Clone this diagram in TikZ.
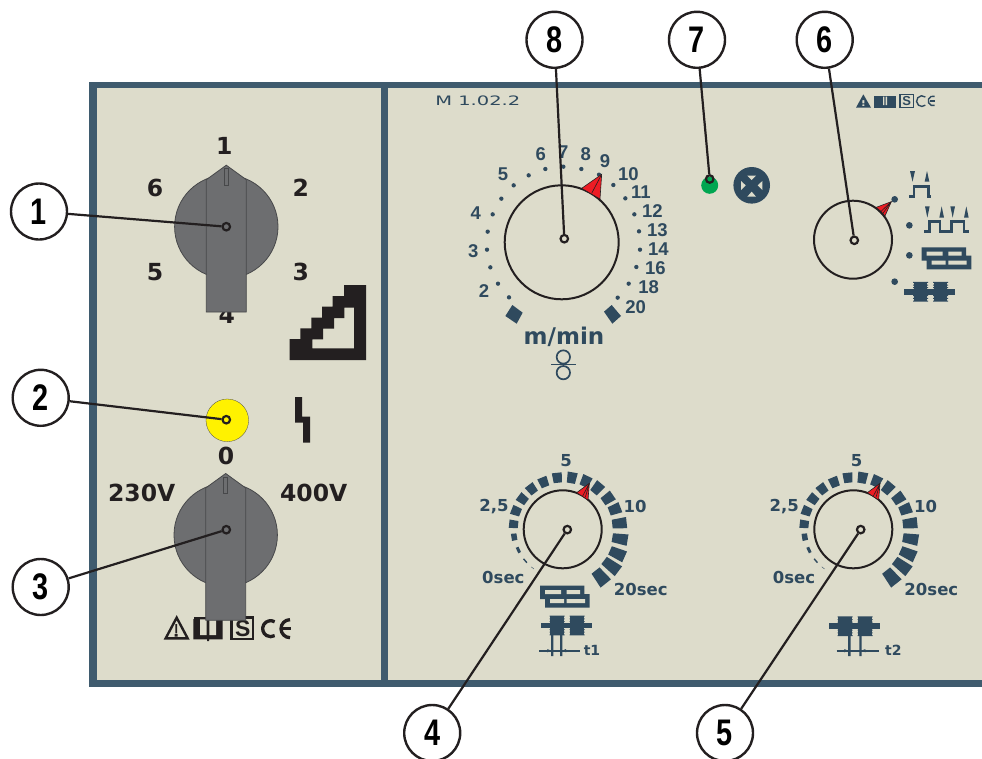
\documentclass[tikz,border=0pt]{standalone}
\usepackage{fontspec}
\setmainfont{Liberation Sans}
\newfontfamily\wide{DejaVu Sans}
\definecolor{frameblue}{HTML}{3F5B6E}
\definecolor{navy}{HTML}{2F4A5E}
\definecolor{panelbg}{HTML}{DDDCCB}
\definecolor{ink}{HTML}{231F20}
\definecolor{knobgray}{HTML}{6D6E70}
\definecolor{knobedge}{HTML}{47484A}
\definecolor{redptr}{HTML}{ED1C24}
\definecolor{greenled}{HTML}{00A651}
\definecolor{yellowled}{HTML}{FFF200}
\newcommand{\calldigit}[1]{\scalebox{.78}[1]{#1}}
\tikzset{x=1pt,y=-1pt,
 callout/.style={circle,draw=ink,line width=2.4pt,fill=white,minimum size=56pt,inner sep=0pt,font=\fontsize{37}{37}\selectfont\bfseries},
 pivot/.style={circle,draw=ink,line width=2.2pt,fill=none,minimum size=7.5pt,inner sep=0pt},
 leader/.style={ink,line width=2.2pt},
 lblk/.style={text=ink,font=\wide\bfseries\fontsize{23.5}{23.5}\selectfont,inner sep=0pt},
 ldial/.style={text=navy,font=\bfseries\fontsize{18.5}{18.5}\selectfont,inner sep=0pt},
 ltime/.style={text=navy,font=\wide\bfseries\fontsize{16.5}{16.5}\selectfont,inner sep=0pt},
 dialring/.style={draw=ink,line width=2pt,fill=none},
 knob/.style={fill=knobgray,draw=knobedge,line width=.8pt},
 zoomed/.style={scale=1/3}
}
\newcommand{\rotknob}[2]{%
 \begin{scope}[shift={(#1,#2)}]
 \draw[knob] (0,0) circle (51.7);
 \draw[knob] (-20,-47) -- (0,-61.5) -- (20,-47) -- (20,85.3) -- (-20,85.3) -- cycle;
 \draw[knobedge,line width=.7pt,fill=knobgray] (-2,-58) rectangle (2,-41.5);
 \end{scope}}
\newcommand{\timeptr}{%
 \fill[redptr,draw=ink,line width=.6pt] (358,130) -- (320,158) -- (354,180) -- cycle;
 \draw[ink,line width=.6pt] (358,130) -- (338,168) (358,130) -- (346,172);}
\newcommand{\timescale}[2]{%
 \begin{scope}[shift={(#1,#2)}]
 \foreach \a/\wa/\ri/\ro in {
  51.5/5.5/53/69.5, 37/5/52/70, 24/5/52/68, 9.5/5/50.5/66, -6/5/50/64.5,
  -21/5/50/62, -34.4/5/49/61, -50/5/48/60, -64.5/5/48/59, -80/5/47/58,
  -96/5/47/57, -112/5/46/56, -127.6/5/46/56, -143/5/45.5/55.5, -158.6/5/45.5/55,
  -174/4.5/45/54, 171/4/46.5/52, 155/3.5/47.5/50.5, 140/3/48.3/49.7, 128/2/48.8/49.2}{
   \fill[navy] ({\ri*cos(\a-\wa)},{\ri*sin(\a-\wa)}) -- ({\ro*cos(\a-\wa)},{\ro*sin(\a-\wa)})
     -- ({\ro*cos(\a+\wa)},{\ro*sin(\a+\wa)}) -- ({\ri*cos(\a+\wa)},{\ri*sin(\a+\wa)}) -- cycle;}
 \end{scope}}
\newcommand{\clutchsym}{%
 \fill[navy] (0,-8.5) rectangle (153,8.5);
 \fill[navy] (28,-28) rectangle (69,29);
 \fill[navy] (88,-28) rectangle (129,29);
 \foreach \yy in {-28,-20,-12,12,20,28}{\fill[navy] (26,\yy-1.5) rectangle (71,\yy+1.5) (86,\yy-1.5) rectangle (131,\yy+1.5);}}
\newcommand{\bricksym}{%
 \fill[navy] (0,0) rectangle (133,40) (15,25) rectangle (149,66);
 \fill[panelbg] (15,13) rectangle (63,25) (80,13) rectangle (120,25)
   (30,40) rectangle (72,52) (80,40) rectangle (135,52);}
\begin{document}
\begin{tikzpicture}
\useasboundingbox (0,0) rectangle (982,758);
\fill[white] (0,0) rectangle (982,758);
% panel
\fill[panelbg] (93,86) rectangle (982,683);
\fill[frameblue] (89,82) rectangle (982,88.3);
\fill[frameblue] (89,82) rectangle (97,686.8);
\fill[frameblue] (89,680) rectangle (982,686.8);
\fill[frameblue] (381,82) rectangle (387.5,686.8);
% left knob 1
\node[lblk] (l4) at (226.7,314.5) {4};
\rotknob{226.3}{226.7}
\node[lblk] (l1) at (224.3,146) {1};
\node[lblk] (l6) at (155,187.7) {6};
\node[lblk] (l2) at (300.7,187.7) {2};
\node[lblk] (l5) at (155,271.7) {5};
\node[lblk] (l3) at (300.7,271.7) {3};
% staircase
\begin{scope}[shift={(90,80)},zoomed]
\fill[ink,even odd rule] (762,615) -- (828,615) -- (828,840) -- (599,840) -- (599,777) -- (631,777) -- (631,745) -- (664,745) -- (664,713) -- (696,713) -- (696,680) -- (728,680) -- (728,648) -- (762,648) -- cycle
 (792,683) -- (792,805) -- (667,805) -- (667,778) -- (699,778) -- (699,746) -- (732,746) -- (732,714) -- (763,714) -- (763,683) -- cycle;
\end{scope}
% yellow lamp and lightning
\fill[yellowled,draw=knobedge,line width=.3pt] (227.3,420.3) circle (21.3);
\begin{scope}[shift={(90,380)},zoomed]
\fill[ink] (615,51) -- (636,51) -- (636,110) -- (660,110) -- (660,188) -- (639,188) -- (639,128) -- (615,128) -- cycle;
\end{scope}
\node[lblk] (l0) at (226,456) {0};
% approval marks left (under the knob handle)
\begin{scope}[shift={(150,600)},zoomed]
\draw[ink,line width=2.4pt,line join=miter] (80,53) -- (113,115) -- (47,115) -- cycle;
\fill[ink] (76,72) rectangle (81,100) (74,102) rectangle (83,110);
\fill[ink] (130,57) rectangle (218,118) (171,118) rectangle (177,123);
\fill[ink] (133,50) rectangle (172,58);
\fill[panelbg] (150,58) rectangle (170,105) (178,58) rectangle (198,105);
\draw[ink,line width=2.6pt] (244,52) rectangle (309.5,117);
\draw[ink,line width=3.3pt] (374,65.2) arc[start angle=-60,end angle=-300,radius=24];
\draw[ink,line width=3.3pt] (420,59) arc[start angle=-90,end angle=-270,radius=27];
\fill[ink] (395,82) rectangle (422,90);
\end{scope}
\node[ink,font=\bfseries\fontsize{23}{23}\selectfont,inner sep=0pt] (ms) at (242.7,628.3) {S};
% left knob 3
\rotknob{225.7}{535}
\node[lblk] (l230) at (141.7,492.7) {230V};
\node[lblk] (l400) at (313.7,492.7) {400V};
% model label
\node[text=navy,font=\wide\fontsize{13}{13}\selectfont,inner sep=0pt,anchor=west,xscale=1.5] (mlab) at (435,101) {M 1.02.2};
% marks right
\begin{scope}[shift={(690,85)},zoomed]
\fill[navy,even odd rule] (520,28) -- (543,68) -- (498,68) -- cycle (517,45) -- (523,45) -- (523,55) -- (517,55) -- cycle (517,58) -- (523,58) -- (523,63) -- (517,63) -- cycle;
\fill[navy] (553,32) rectangle (617,70);
\fill[panelbg] (579,35) rectangle (583,60) (587,35) rectangle (591,60);
\draw[navy,line width=1.6pt] (630,29) rectangle (670,68);
\draw[navy,line width=1.4pt] (706,36) arc[start angle=-50,end angle=-310,radius=16];
\draw[navy,line width=1.4pt] (734,34) arc[start angle=-70,end angle=-290,radius=14.5];
\fill[navy] (719,46) rectangle (734,50);
\end{scope}
\node[navy,font=\bfseries\fontsize{13}{13}\selectfont,inner sep=0pt] (ms2) at (906.7,101) {S};
% dial 8
\coordinate (d8) at (561.7,242.3);
\draw[dialring] (d8) circle (57);
\begin{scope}[shift={(420,85)},zoomed]
\foreach \p in {(267,637),(234,596),(211,547),(201,494),(203,440),(218,388),(244,341),(281,301),(326,271),(376,252),(430,245),(484,252),(537,269),(580,300),(616,340),(643,388),(657,439),(660,494),(649,546),(626,596),(593,638)}{
  \fill[navy] \p circle (6.5);}
\fill[navy] (277,660) -- (308,683) -- (290,716) -- (256,693) -- cycle;
\fill[navy] (575,660) -- (603,693) -- (577,716) -- (552,680) -- cycle;
\draw[navy,line width=1.7pt] (430,816) circle (20) (430,863) circle (20);
\draw[navy,line width=1.7pt] (393,838.5) -- (468,838.5);
\fill[redptr,draw=ink,line width=.6pt] (545,268) -- (485,310) -- (540,342) -- cycle;
\draw[ink,line width=.6pt] (545,268) -- (515,325);
\end{scope}
\foreach \nn/\tx/\zx/\zy in {s2/2/192/618,s3/3/160/498,s4/4/167/383,s5/5/249/268,s6/6/362/208,s7/7/430/200,s8/8/497/207,s9/9/555/228,s10/10/625/268,s11/11/663/322,s12/12/697/378,s13/13/712/435,s14/14/715/492,s16/16/706/548,s18/18/686/606,s20/20/647/665}{
 \node[ldial] (\nn) at ({420+\zx/3},{85+\zy/3}) {\tx};}
\node[text=navy,font=\wide\bfseries\fontsize{23}{23}\selectfont,inner sep=0pt] (mmin) at (564,337) {m/min};
% LED 7 and lamp symbol
\fill[greenled] (709.7,185.3) circle (8.5);
\fill[navy] (751.7,185.3) circle (18.3);
\begin{scope}[shift={(690,85)},zoomed]
\fill[panelbg] (153,288) -- (167,301) -- (153,315) -- cycle
 (217,288) -- (203,301) -- (217,315) -- cycle
 (172,272) -- (198,272) -- (185,285) -- cycle
 (172,335) -- (198,335) -- (185,320) -- cycle;
% dial 6 pointer, dots and symbols
\fill[redptr,draw=ink,line width=.6pt] (604,350) -- (556,368) -- (584,395) -- cycle;
\draw[ink,line width=.6pt] (604,350) -- (570,382) (604,350) -- (576,389);
\foreach \p in {(614,343),(658,421),(658,511),(614,590)}{\fill[navy] \p circle (10);}
\fill[navy] (660,258) -- (675,258) -- (667.5,290) -- cycle (704,290) -- (718,290) -- (711,258) -- cycle;
\draw[navy,line width=2.6pt] (658,335) -- (672,335) -- (672,305) -- (715,305) -- (715,335) -- (723,335);
\fill[navy] (705,364) -- (719,364) -- (712,398) -- cycle
 (748,398) -- (762,398) -- (755,364) -- cycle
 (781,364) -- (795,364) -- (788,398) -- cycle
 (822,398) -- (836,398) -- (829,364) -- cycle;
\draw[navy,line width=2.6pt] (703,440) -- (718,440) -- (718,410) -- (750,410) -- (750,440) -- (785,440) -- (785,410) -- (822,410) -- (822,440) -- (837,440);
\begin{scope}[shift={(695,487)}]\bricksym\end{scope}
\begin{scope}[shift={(643,620)}]\clutchsym\end{scope}
\end{scope}
\coordinate (d6) at (853,239.7);
\draw[dialring] (d6) circle (39);
% dial 4
\timescale{562.7}{529.3}
\coordinate (d4) at (562.7,529.3);
\draw[dialring] (d4) circle (39);
\begin{scope}[shift={(470,440)},zoomed]
\timeptr
\begin{scope}[shift={(210,437)}]\bricksym\end{scope}
\fill[navy] (243,585) rectangle (250,648) (270,585) rectangle (277,648);
\begin{scope}[shift={(213,556.5)}]\clutchsym\end{scope}
\draw[navy,line width=1.8pt] (207,632) -- (330,632);
\fill[navy] (232,627) -- (243,632) -- (232,637) -- cycle (288,627) -- (277,632) -- (288,637) -- cycle;
\end{scope}
\foreach \nn/\tx/\zx/\zy in {a5/5/288/62,a25/{2,5}/72/200,a10/10/495/198,a0/0sec/100/412,a20/20sec/512/448}{
 \node[ltime] (\nn) at ({470+\zx/3},{440+\zy/3}) {\tx};}
\node[text=navy,font=\wide\bfseries\fontsize{14}{14}\selectfont,inner sep=0pt] (t1) at ({470+366/3},{440+632/3}) {t1};
% dial 5
\timescale{853.3}{529.3}
\coordinate (d5) at (853.3,529.3);
\draw[dialring] (d5) circle (39);
\begin{scope}[shift={(760,440)},zoomed]
\begin{scope}[shift={(2,0)}]\timeptr\end{scope}
\fill[navy] (264,587) rectangle (272,648) (298,587) rectangle (305,648);
\begin{scope}[shift={(207,558.5)}]\clutchsym\end{scope}
\draw[navy,line width=1.8pt] (230,632) -- (358,632);
\fill[navy] (253,627) -- (264,632) -- (253,637) -- cycle (316,627) -- (305,632) -- (316,637) -- cycle;
\end{scope}
\foreach \nn/\tx/\zx/\zy in {b5/5/290/62,b25/{2,5}/73/200,b10/10/497/198,b0/0sec/102/412,b20/20sec/514/448}{
 \node[ltime] (\nn) at ({760+\zx/3},{440+\zy/3}) {\tx};}
\node[text=navy,font=\wide\bfseries\fontsize{14}{14}\selectfont,inner sep=0pt] (t2) at ({760+400/3},{440+632/3}) {t2};
% pivots
\node[pivot] (p1) at (226.3,226.7) {};
\node[pivot] (p2) at (226.3,419.7) {};
\node[pivot] (p3) at (226.3,529.7) {};
\node[pivot] (p4) at (567.3,529.6) {};
\node[pivot] (p5) at (860.7,529.6) {};
\node[pivot] (p6) at (854.3,240.3) {};
\node[pivot] (p7) at (709.7,179) {};
\node[pivot] (p8) at (564.3,238.7) {};
% callouts
\node[callout] (c1) at (39,211.5) {\calldigit{1}};
\node[callout] (c2) at (40.7,397.8) {\calldigit{2}};
\node[callout] (c3) at (40.7,587) {\calldigit{3}};
\node[callout] (c4) at (432.2,733) {\calldigit{4}};
\node[callout] (c5) at (725,733) {\calldigit{5}};
\node[callout] (c6) at (824.7,39.8) {\calldigit{6}};
\node[callout] (c7) at (697,39.8) {\calldigit{7}};
\node[callout] (c8) at (554.5,39.8) {\calldigit{8}};
\foreach \i in {1,...,8}{\draw[leader] (c\i) -- (p\i);}
\end{tikzpicture}
\end{document}
